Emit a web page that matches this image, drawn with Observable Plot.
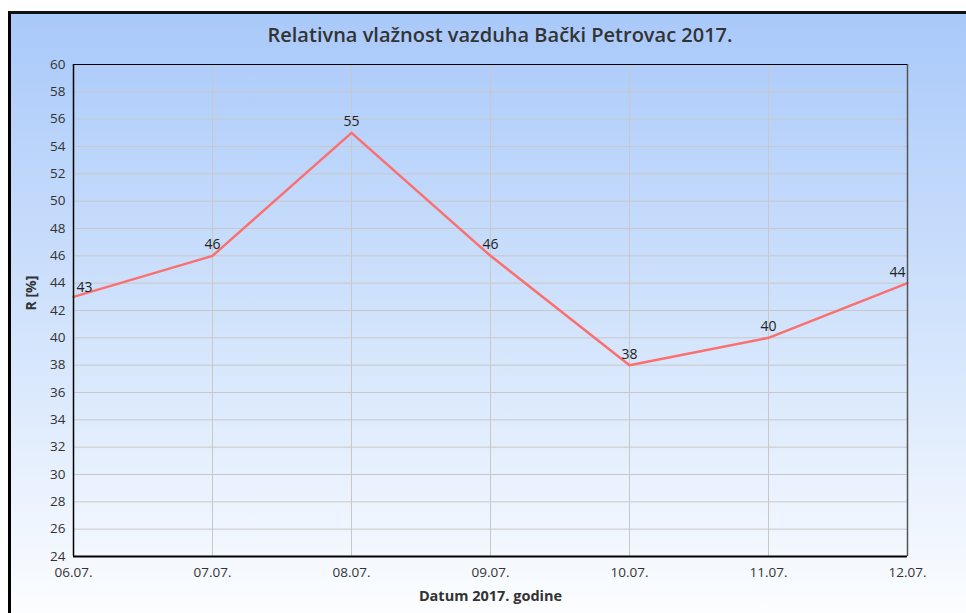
<!DOCTYPE html>
<html><head><meta charset="utf-8">
<script src="https://cdn.jsdelivr.net/npm/d3@7"></script>
<script src="https://cdn.jsdelivr.net/npm/@observablehq/plot@0.6"></script>
<style>
html,body{margin:0;padding:0;background:#fff;width:966px;height:613px;overflow:hidden;font-family:"Open Sans",sans-serif;}
#wrap{position:absolute;left:0;top:0;width:966px;height:613px;}
#bg{position:absolute;left:8px;top:11px;width:970px;height:620px;border-left:3px solid #000;border-top:3px solid #111;background:linear-gradient(to bottom,#a9c9fa 0%,#d6e6fc 55%,#ffffff 100%);}
#title{position:absolute;left:83px;width:834px;top:21px;text-align:center;font-size:20px;font-weight:600;color:#333;}
#chart{position:absolute;left:0;top:0;}
</style></head>
<body><div id="wrap"><div id="bg"></div><div id="chart"></div><div id="title">Relativna vlažnost vazduha Bački Petrovac 2017.</div></div>
<script>
const dates = ["06.07.","07.07.","08.07.","09.07.","10.07.","11.07.","12.07."];
const humidity = [43,46,55,46,38,40,44];
const yTicks = [24,26,28,30,32,34,36,38,40,42,44,46,48,50,52,54,56,58,60];
const xTitle = "Datum 2017. godine";
const yTitle = "R [%]";

const data = dates.map((d,i)=>({date:d, value:humidity[i], i}));
const last = dates.length-1;

const chart = Plot.plot({
  width:966, height:613,
  marginLeft:73, marginRight:59, marginTop:64, marginBottom:57,
  style:{background:"transparent", fontFamily:"Open Sans, sans-serif", fontSize:"14px", color:"#333", overflow:"visible"},
  x:{type:"point", domain:dates, padding:0, label:null},
  y:{domain:[24,60], ticks:yTicks, label:null},
  marks:[
    Plot.gridY(yTicks,{stroke:"#c8c8c8", strokeOpacity:1, strokeWidth:1}),
    Plot.gridX(dates,{stroke:"#c8c8c8", strokeOpacity:1, strokeWidth:1}),
    Plot.axisY({ticks:yTicks, tickSize:0, tickPadding:8, fontSize:13.5, fill:"#333", label:null}),
    Plot.axisX({tickSize:0, tickPadding:11, fontSize:13.5, fill:"#333", label:null}),
    Plot.line(data,{x:"date", y:"value", stroke:"#fb6f6f", strokeWidth:2.5}),
    Plot.text(data.filter(d=>d.i>0&&d.i<last),{x:"date", y:"value", text:d=>String(d.value), dy:-11, fontSize:14, fill:"#222"}),
    Plot.text(data.filter(d=>d.i===0),{x:"date", y:"value", text:d=>String(d.value), dy:-9, dx:3, textAnchor:"start", fontSize:14, fill:"#222"}),
    Plot.text(data.filter(d=>d.i===last),{x:"date", y:"value", text:d=>String(d.value), dy:-11, dx:-2, textAnchor:"end", fontSize:14, fill:"#222"}),
    Plot.ruleX([dates[last]],{stroke:"#555", strokeWidth:1.5}),
    Plot.ruleX([dates[0]],{stroke:"#000", strokeWidth:1.5}),
    Plot.ruleY([24],{stroke:"#000", strokeWidth:2}),
    Plot.ruleY([60],{stroke:"#000", strokeWidth:1.2}),
    Plot.text([xTitle],{frameAnchor:"bottom", dy:44, fontSize:14.5, fontWeight:"bold", fill:"#333"}),
    Plot.text([yTitle],{frameAnchor:"left", dx:-42, rotate:-90, fontSize:14, fontWeight:"bold", fill:"#333"})
  ]
});
document.getElementById("chart").appendChild(chart);
</script></body></html>
